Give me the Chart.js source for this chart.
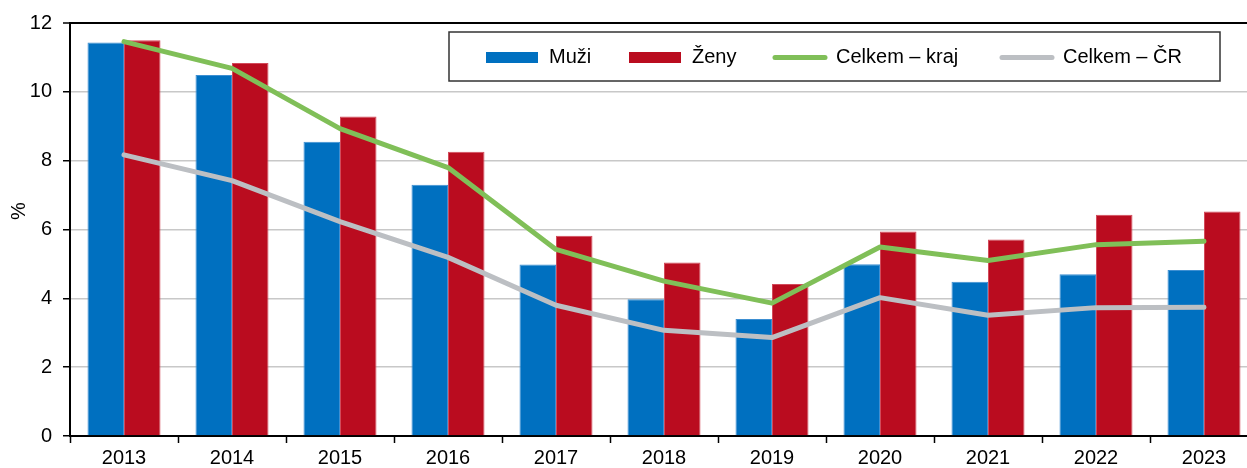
<!DOCTYPE html>
<html>
<head>
<meta charset="utf-8">
<script src="https://cdn.jsdelivr.net/npm/chart.js@4.4.1/dist/chart.umd.min.js"></script>
<style>
  html, body { margin: 0; padding: 0; background: #fff; overflow: hidden; }
  #wrap { width: 1262px; height: 468px; }
</style>
</head>
<body>
<div id="wrap"><canvas id="graf" width="1262" height="468"></canvas></div>
<script>
// roky
const years = ['2013', '2014', '2015', '2016', '2017', '2018', '2019', '2020', '2021', '2022', '2023'];

// podíl nezaměstnaných (%)
const muzi = [11.43, 10.49, 8.55, 7.30, 4.98, 3.97, 3.40, 4.99, 4.48, 4.70, 4.82];
const zeny = [11.50, 10.84, 9.28, 8.26, 5.82, 5.04, 4.42, 5.94, 5.71, 6.43, 6.52];
const celkemKraj = [11.46, 10.68, 8.93, 7.80, 5.42, 4.50, 3.86, 5.49, 5.10, 5.56, 5.66];
const celkemCR = [8.17, 7.42, 6.23, 5.19, 3.80, 3.07, 2.86, 4.02, 3.51, 3.73, 3.74];

const yTicks = [0, 2, 4, 6, 8, 10, 12];

const FONT = 'Liberation Sans, Arial, sans-serif';

// legenda uvnitř grafu v rámečku + popisek osy Y
const legendBox = {
  id: 'legendBox',
  afterDraw(chart) {
    const ctx = chart.ctx;
    ctx.save();
    ctx.fillStyle = '#fff';
    ctx.fillRect(449, 32, 771, 49);
    ctx.strokeStyle = '#333';
    ctx.lineWidth = 1.5;
    ctx.strokeRect(449, 32, 771, 49);

    const xs = [486, 629, 773, 1000];
    ctx.font = '20px ' + FONT;
    ctx.textBaseline = 'middle';
    chart.data.datasets.forEach((ds, i) => {
      const x = xs[i];
      if (ds.type === 'line') {
        ctx.strokeStyle = ds.borderColor;
        ctx.lineWidth = 5;
        ctx.lineCap = 'round';
        ctx.beginPath();
        ctx.moveTo(x + 2, 57.5);
        ctx.lineTo(x + 52, 57.5);
        ctx.stroke();
      } else {
        ctx.fillStyle = ds.backgroundColor;
        ctx.fillRect(x, 52, 52, 11);
      }
      ctx.fillStyle = '#000';
      ctx.fillText(ds.label, x + 63, 57);
    });

    // popisek osy
    ctx.translate(19, 211);
    ctx.rotate(-Math.PI / 2);
    ctx.textAlign = 'center';
    ctx.fillText('%', 0, 0);
    ctx.restore();
  }
};

new Chart('graf', {
  data: {
    labels: years,
    datasets: [
      { type: 'bar', label: 'Muži', data: muzi, backgroundColor: '#0070C0', borderColor: '#3d8fd2', borderWidth: 1, order: 2 },
      { type: 'bar', label: 'Ženy', data: zeny, backgroundColor: '#BA0C1F', borderColor: '#d24a5a', borderWidth: 1, order: 2 },
      { type: 'line', label: 'Celkem – kraj', data: celkemKraj, borderColor: '#80BF58', borderWidth: 5,
        pointRadius: 0, tension: 0, borderCapStyle: 'round', borderJoinStyle: 'round', order: 1 },
      { type: 'line', label: 'Celkem – ČR', data: celkemCR, borderColor: '#BCBFC3', borderWidth: 5,
        pointRadius: 0, tension: 0, borderCapStyle: 'round', borderJoinStyle: 'round', order: 1 }
    ]
  },
  options: {
    responsive: false,
    devicePixelRatio: 1,
    animation: false,
    layout: { padding: { top: 22, right: 4, left: 0, bottom: 0 } },
    datasets: {
      bar: { categoryPercentage: 0.676, barPercentage: 1.0 }
    },
    plugins: {
      legend: { display: false },
      tooltip: { enabled: false }
    },
    scales: {
      x: {
        offset: true,
        afterFit: s => { s.height = 32; },
        grid: { display: true, drawOnChartArea: false, offset: true, tickLength: 7, tickColor: '#000', tickWidth: 1.5 },
        border: { color: '#000', width: 2 },
        ticks: { color: '#000', font: { family: FONT, size: 20 }, padding: 3, maxRotation: 0 }
      },
      y: {
        min: 0,
        max: 12,
        afterFit: s => { s.width = 70; },
        afterBuildTicks: s => { s.ticks = yTicks.map(v => ({ value: v })); },
        grid: {
          color: c => c.tick && c.tick.value === 12 ? '#000' : '#C8C8C8',
          lineWidth: c => c.tick && c.tick.value === 12 ? 2 : 1.5,
          tickLength: 7,
          tickColor: '#000',
          tickWidth: 1.5
        },
        border: { color: '#000', width: 2 },
        ticks: { color: '#000', font: { family: FONT, size: 20 }, padding: 11 }
      }
    }
  },
  plugins: [legendBox]
});
</script>
</body>
</html>
